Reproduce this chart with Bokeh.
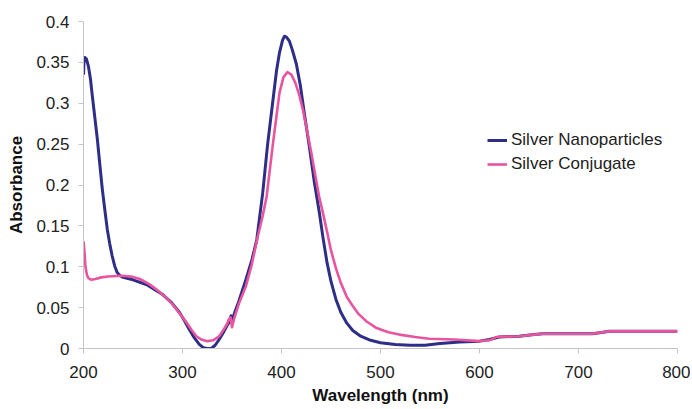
from bokeh.plotting import figure
from bokeh.models import Range1d, FixedTicker, Legend, LegendItem
from bokeh.embed import file_html
from bokeh.resources import INLINE

# Silver Nanoparticles
wl_np = [200, 200.5, 201.5, 203, 205, 207, 209, 211.5, 214, 216.5, 219, 221.5, 224, 226.5, 229, 231.5, 234, 237,
         240, 250, 264, 272, 280, 289, 297, 302, 307, 312, 317, 321, 325, 329, 333, 337, 341, 345, 348, 349, 350,
         353, 357, 364, 370, 375, 381, 386, 391, 395, 398, 401, 403, 405, 408, 411, 415, 419, 423, 428, 433, 438,
         442, 446, 450, 455, 460, 466, 472, 480, 490, 500, 515, 530, 545, 560, 580, 600, 610, 620, 640, 655, 664,
         700, 714, 725, 731, 760, 800]
abs_np = [0.335, 0.350, 0.356, 0.354, 0.345, 0.330, 0.308, 0.282, 0.256, 0.225, 0.195, 0.170, 0.146, 0.128, 0.113,
          0.101, 0.093, 0.089, 0.087, 0.084, 0.078, 0.072, 0.066, 0.056, 0.044, 0.034, 0.023, 0.013, 0.005, 0.001,
          0.0, 0.0, 0.004, 0.011, 0.019, 0.028, 0.034, 0.040, 0.034, 0.045, 0.058, 0.084, 0.108, 0.133, 0.190,
          0.250, 0.300, 0.340, 0.362, 0.377, 0.382, 0.381, 0.376, 0.365, 0.348, 0.322, 0.288, 0.248, 0.205, 0.168,
          0.135, 0.105, 0.082, 0.060, 0.044, 0.031, 0.022, 0.015, 0.010, 0.007, 0.005, 0.004, 0.004, 0.006, 0.008,
          0.009, 0.011, 0.014, 0.015, 0.017, 0.018, 0.018, 0.018, 0.020, 0.021, 0.021, 0.021]

# Silver Conjugate
wl_c = [200, 201, 202, 203.5, 205, 208, 212, 218, 225, 239, 248, 257, 266, 274, 282, 290, 297, 304, 309, 314, 319,
        325, 331, 337, 341, 345, 347, 348.5, 350, 352, 357, 364, 370, 376, 381, 385, 391, 395, 398, 402, 406, 410,
        414, 418, 422, 426, 430, 434, 438, 442, 446, 450, 455, 460, 466, 472, 478, 486, 496, 508, 519, 535, 549,
        575, 600, 610, 617, 640, 655, 664, 700, 714, 725, 731, 760, 800]
abs_c = [0.131, 0.118, 0.100, 0.090, 0.086, 0.084, 0.085, 0.087, 0.088, 0.089, 0.088, 0.085, 0.079, 0.072, 0.064,
         0.054, 0.043, 0.032, 0.023, 0.015, 0.011, 0.009, 0.010, 0.015, 0.022, 0.030, 0.036, 0.038, 0.026, 0.036,
         0.055, 0.076, 0.103, 0.137, 0.162, 0.186, 0.247, 0.285, 0.313, 0.332, 0.338, 0.335, 0.325, 0.310, 0.290,
         0.265, 0.240, 0.213, 0.186, 0.165, 0.143, 0.120, 0.098, 0.080, 0.063, 0.052, 0.042, 0.033, 0.025, 0.020,
         0.017, 0.014, 0.012, 0.011, 0.009, 0.010, 0.014, 0.015, 0.017, 0.018, 0.018, 0.018, 0.020, 0.021, 0.021,
         0.021]

x_ticks = [200, 300, 400, 500, 600, 700, 800]
y_ticks = [0, 0.05, 0.1, 0.15, 0.2, 0.25, 0.3, 0.35, 0.4]
y_labels = {0: "0", 0.05: "0.05", 0.1: "0.1", 0.15: "0.15", 0.2: "0.2", 0.25: "0.25", 0.3: "0.3", 0.35: "0.35", 0.4: "0.4"}

FONT = "Liberation Sans"
BLUE = "#2e2e88"
PINK = "#e8559f"

p = figure(width=690, height=407, output_backend="svg", toolbar_location=None,
           x_range=Range1d(200, 800), y_range=Range1d(0, 0.4),
           min_border_left=83, min_border_right=13, min_border_top=21, min_border_bottom=59)
p.outline_line_color = None
p.grid.visible = False
p.background_fill_color = "white"
p.border_fill_color = "white"

r1 = p.line(wl_np, abs_np, line_color=BLUE, line_width=3, line_join="round")
r2 = p.line(wl_c, abs_c, line_color=PINK, line_width=2.6, line_join="round")

for ax in (p.xaxis[0], p.yaxis[0]):
    ax.axis_line_color = "#c4c4c4"
    ax.major_tick_line_color = "#c4c4c4"
    ax.major_tick_out = 5
    ax.major_tick_in = 0
    ax.minor_tick_line_color = None
    ax.major_label_text_font = FONT
    ax.major_label_text_font_size = "17px"
    ax.major_label_text_color = "#222222"
    ax.axis_label_text_font = FONT
    ax.axis_label_text_font_size = "17px"
    ax.axis_label_text_font_style = "bold"
    ax.axis_label_text_color = "#111111"

p.xaxis.ticker = FixedTicker(ticks=x_ticks)
p.yaxis.ticker = FixedTicker(ticks=y_ticks)
p.yaxis.major_label_overrides = y_labels
p.xaxis.axis_label = "Wavelength (nm)"
p.yaxis.axis_label = "Absorbance"
p.xaxis.major_label_standoff = 12
p.xaxis.axis_label_standoff = 5
p.yaxis.major_label_standoff = 9
p.yaxis.axis_label_standoff = 7

legend = Legend(items=[LegendItem(label="Silver Nanoparticles", renderers=[r1]),
                       LegendItem(label="Silver Conjugate", renderers=[r2])],
                location=(404, 174), border_line_color=None, background_fill_alpha=0,
                padding=0, margin=0, spacing=4, glyph_width=20, glyph_height=20, label_standoff=4,
                label_text_font=FONT, label_text_font_size="17px", label_text_color="#222222")
p.add_layout(legend, "center")

open("out.html", "w").write(file_html(p, INLINE))
